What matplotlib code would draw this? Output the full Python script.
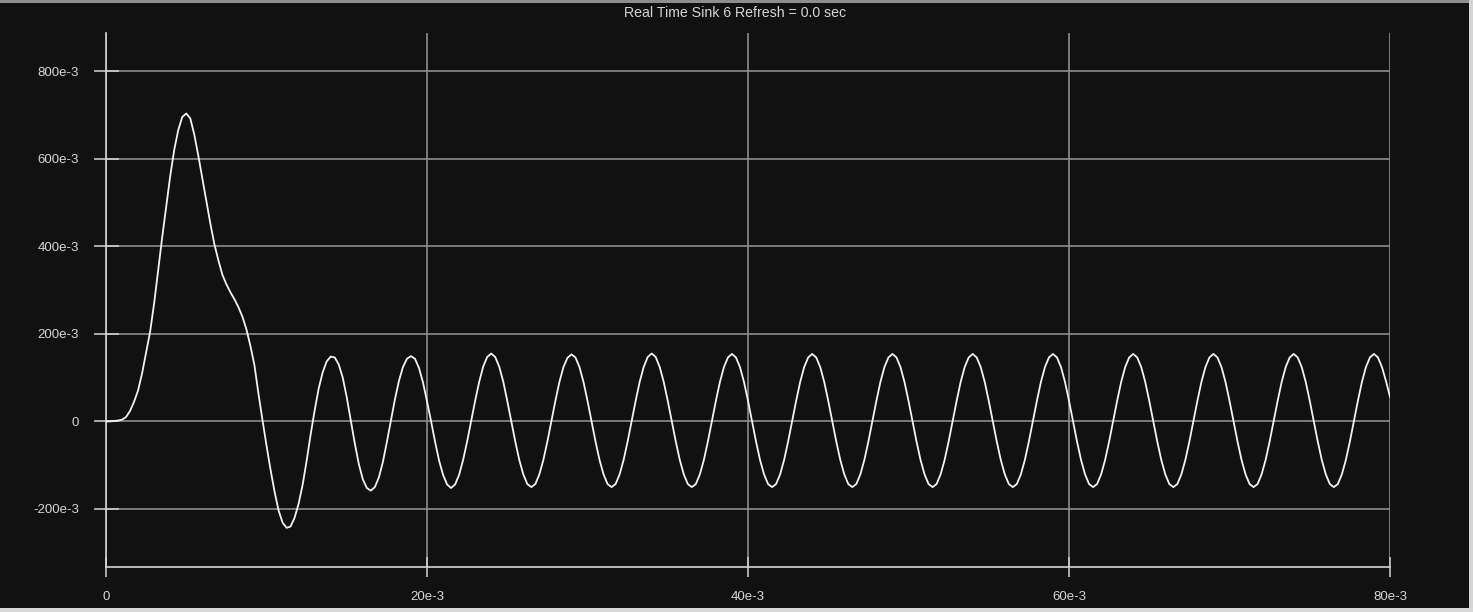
import numpy as np
import matplotlib
matplotlib.use("Agg")
import matplotlib.pyplot as plt
from matplotlib.patches import Rectangle

# ---------------- data ----------------
title_text = "Real Time Sink 6 Refresh = 0.0 sec"
sample_step = 0.25e-3  # seconds between samples

# start-up transient, t = 0 .. 18.75 ms
transient = [
    0.000, 0.000, 0.001, 0.002, 0.004, 0.010, 0.024, 0.045,
    0.071, 0.110, 0.158, 0.205, 0.270, 0.345, 0.420, 0.490,
    0.560, 0.620, 0.665, 0.695, 0.703, 0.692, 0.655, 0.607,
    0.555, 0.502, 0.452, 0.405, 0.368, 0.335, 0.313, 0.295,
    0.279, 0.261, 0.239, 0.210, 0.172, 0.128, 0.063, 0.003,
    -0.055, -0.110, -0.160, -0.203, -0.231, -0.243, -0.240, -0.220,
    -0.188, -0.145, -0.090, -0.030, 0.025, 0.075, 0.112, 0.137,
    0.148, 0.146, 0.130, 0.100, 0.055, 0.003, -0.050, -0.097,
    -0.132, -0.152, -0.158, -0.150, -0.128, -0.093, -0.047, 0.002,
    0.050, 0.092, 0.124, 0.143,
]

# steady oscillation, t = 19.0 .. 80.0 ms (one row per 5 ms cycle)
steady = [
    0.149, 0.143, 0.122, 0.089, 0.046, 0.001, -0.046, -0.089, -0.122, -0.144,
    -0.152, -0.144, -0.122, -0.088, -0.046, 0.001, 0.047, 0.090, 0.125, 0.147,
    0.155, 0.147, 0.125, 0.091, 0.047, 0.001, -0.046, -0.088, -0.121, -0.143,
    -0.150, -0.143, -0.121, -0.088, -0.046, 0.001, 0.047, 0.090, 0.124, 0.145,
    0.153, 0.146, 0.124, 0.090, 0.047, 0.001, -0.046, -0.088, -0.121, -0.143,
    -0.150, -0.143, -0.121, -0.088, -0.046, 0.001, 0.047, 0.090, 0.124, 0.147,
    0.155, 0.147, 0.124, 0.090, 0.047, 0.001, -0.046, -0.088, -0.121, -0.143,
    -0.150, -0.143, -0.121, -0.088, -0.046, 0.001, 0.047, 0.090, 0.124, 0.146,
    0.154, 0.146, 0.124, 0.090, 0.047, 0.001, -0.046, -0.088, -0.121, -0.143,
    -0.150, -0.143, -0.121, -0.088, -0.046, 0.001, 0.047, 0.090, 0.124, 0.146,
    0.154, 0.146, 0.124, 0.090, 0.047, 0.001, -0.046, -0.088, -0.121, -0.143,
    -0.150, -0.143, -0.121, -0.088, -0.046, 0.001, 0.047, 0.090, 0.124, 0.146,
    0.154, 0.146, 0.124, 0.090, 0.047, 0.001, -0.046, -0.088, -0.121, -0.143,
    -0.150, -0.143, -0.121, -0.088, -0.046, 0.001, 0.047, 0.090, 0.124, 0.146,
    0.154, 0.146, 0.124, 0.090, 0.047, 0.001, -0.046, -0.088, -0.121, -0.143,
    -0.150, -0.143, -0.121, -0.088, -0.046, 0.001, 0.047, 0.090, 0.124, 0.146,
    0.154, 0.146, 0.124, 0.090, 0.047, 0.001, -0.046, -0.088, -0.121, -0.143,
    -0.150, -0.143, -0.121, -0.088, -0.046, 0.001, 0.047, 0.090, 0.124, 0.146,
    0.154, 0.146, 0.124, 0.090, 0.047, 0.001, -0.046, -0.088, -0.121, -0.143,
    -0.150, -0.143, -0.121, -0.088, -0.046, 0.001, 0.047, 0.090, 0.124, 0.146,
    0.154, 0.146, 0.124, 0.090, 0.047, 0.001, -0.046, -0.088, -0.121, -0.143,
    -0.150, -0.143, -0.121, -0.088, -0.046, 0.001, 0.047, 0.090, 0.124, 0.146,
    0.154, 0.146, 0.124, 0.090, 0.047, 0.001, -0.046, -0.088, -0.121, -0.143,
    -0.150, -0.143, -0.121, -0.088, -0.046, 0.001, 0.047, 0.090, 0.124, 0.146,
    0.154, 0.146, 0.124, 0.092, 0.056,
]

x_ticks = [0.0, 0.02, 0.04, 0.06, 0.08]
x_tick_labels = ["0", "20e-3", "40e-3", "60e-3", "80e-3"]
y_ticks = [-0.2, 0.0, 0.2, 0.4, 0.6, 0.8]
y_tick_labels = ["-200e-3", "0", "200e-3", "400e-3", "600e-3", "800e-3"]
x_limits = (0.0, 0.08)
y_limits = (-0.3313, 0.8868)

signal = np.array(transient + steady)
time = np.arange(len(signal)) * sample_step

# ---------------- figure ----------------
W, H, DPI = 1473, 612, 100
bg = "#111111"
text_col = "#d6d6d6"
grid_col = "#8c8c8c"
axis_col = "#d4d4d4"

plt.rcParams["font.family"] = ["Liberation Sans", "DejaVu Sans"]

fig = plt.figure(figsize=(W / DPI, H / DPI), dpi=DPI, facecolor=bg)
ax = fig.add_axes([106 / W, 1 - 566.5 / H, (1390 - 106) / W, (566.5 - 33) / H])
ax.set_facecolor(bg)

ax.plot(time, signal, color="#f2f2f2", lw=1.3, solid_joinstyle="round", zorder=3)

ax.set_xlim(*x_limits)
ax.set_ylim(*y_limits)
ax.set_xticks(x_ticks)
ax.set_xticklabels(x_tick_labels)
ax.set_yticks(y_ticks)
ax.set_yticklabels(y_tick_labels)

ax.grid(True, color=grid_col, lw=1.2)
ax.set_axisbelow(True)

for side in ("top", "right"):
    ax.spines[side].set_visible(False)
for side in ("left", "bottom"):
    ax.spines[side].set_color(axis_col)
    ax.spines[side].set_linewidth(1.2)
    ax.spines[side].set_zorder(2.5)

ax.tick_params(axis="y", direction="inout", length=18, width=1.1, color=axis_col,
               labelcolor=text_col, labelsize=9.5, pad=10.5)
ax.tick_params(axis="x", direction="inout", length=15, width=1.1, color=axis_col,
               labelcolor=text_col, labelsize=9.5, pad=10.5)

fig.text(735.5 / W, 1 - 13 / H, title_text, color=text_col, fontsize=10.2,
         ha="center", va="center")

# window frame strips
fig.patches.append(Rectangle((0, 1 - 3 / H), 1, 3 / H, transform=fig.transFigure,
                             facecolor="#8e8e8e", edgecolor="none", zorder=5))
fig.patches.append(Rectangle((1 - 4 / W, 0), 4 / W, 1, transform=fig.transFigure,
                             facecolor="#d4d4d4", edgecolor="none", zorder=5))
fig.patches.append(Rectangle((0, 0), 1, 4 / H, transform=fig.transFigure,
                             facecolor="#d8d8d8", edgecolor="none", zorder=5))

fig.savefig("out.png", dpi=DPI, facecolor=bg)
